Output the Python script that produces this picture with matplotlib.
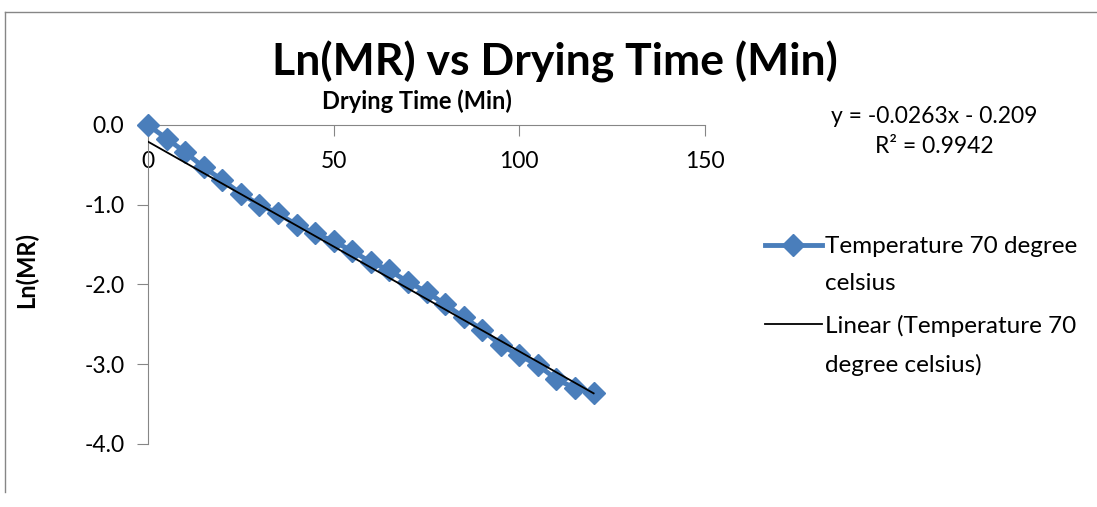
import matplotlib.pyplot as plt
from matplotlib.lines import Line2D

plt.rcParams['font.family'] = ['Lato', 'DejaVu Sans']

# drying time (min) and ln(MR) at 70 degree celsius
time_min = [0, 5, 10, 15, 20, 25, 30, 35, 40, 45, 50, 55, 60,
            65, 70, 75, 80, 85, 90, 95, 100, 105, 110, 115, 120]
ln_mr = [0.0, -0.17, -0.34, -0.53, -0.69, -0.86, -1.00, -1.11, -1.25,
         -1.36, -1.46, -1.58, -1.72, -1.82, -1.97, -2.09, -2.25, -2.41,
         -2.57, -2.76, -2.89, -3.01, -3.19, -3.30, -3.36]

# linear trendline coefficients
slope = -0.0263
intercept = -0.209
r_squared = 0.9942

x_ticks = [0, 50, 100, 150]
y_ticks = [0.0, -1.0, -2.0, -3.0, -4.0]

blue = '#4a7ebb'
grey = '#868686'

fig = plt.figure(figsize=(10.97, 5.07), dpi=100)
ax = fig.add_axes([0.1349, 0.1243, 0.5078, 0.6292])

ax.plot(time_min, ln_mr, color=blue, lw=3.5, marker='D', ms=11,
        label='Temperature 70 degree\ncelsius', zorder=3, clip_on=False)
fit_x = [time_min[0], time_min[-1]]
fit_y = [slope * t + intercept for t in fit_x]
ax.plot(fit_x, fit_y, color='black', lw=1.3,
        label='Linear (Temperature 70\ndegree celsius)', zorder=4)

ax.set_xlim(0, 150)
ax.set_ylim(-4, 0)
ax.set_xticks(x_ticks)
ax.set_yticks(y_ticks)
ax.set_yticklabels(['%.1f' % v for v in y_ticks])

# x axis sits at y = 0 (top), labels drawn underneath it
ax.spines['bottom'].set_visible(False)
ax.spines['right'].set_visible(False)
ax.spines['top'].set_color(grey)
ax.spines['left'].set_color(grey)
ax.xaxis.set_ticks_position('top')
ax.tick_params(axis='x', direction='in', length=8, color=grey,
               labeltop=True, labelbottom=False, pad=-19, labelsize=16.5)
ax.tick_params(axis='y', direction='out', length=8, color=grey,
               labelsize=16.5, pad=9)
for lbl in ax.get_xticklabels():
    lbl.set_verticalalignment('top')

ax.set_xlabel('Drying Time (Min)', fontsize=17, fontweight='bold')
ax.xaxis.set_label_position('top')
ax.xaxis.set_label_coords(0.482, 1.05)
ax.set_ylabel('Ln(MR)', fontsize=17, fontweight='bold')
ax.yaxis.set_label_coords(-0.198, 0.545)

fig.text(0.506, 0.878, 'Ln(MR) vs Drying Time (Min)', fontsize=32,
         fontweight='bold', ha='center', va='center')

fig.text(0.852, 0.771, 'y = %.4fx - %.3f' % (slope, -intercept),
         fontsize=16.5, ha='center', va='center')
fig.text(0.852, 0.712, 'R² = %.4f' % r_squared,
         fontsize=16.5, ha='center', va='center')

leg = ax.legend(loc='upper left', bbox_to_anchor=(0.697, 0.534),
                bbox_transform=fig.transFigure, frameon=False, fontsize=17.5,
                handlelength=2.35, handletextpad=0.12, labelspacing=0.85,
                borderaxespad=0, borderpad=0)
for t in leg.get_texts():
    t.set_linespacing(1.95)
# keep each handle level with the first line of its label
for column in leg._legend_handle_box.get_children():
    for entry in column.get_children():
        entry.align = 'top'

# chart area border (top and left edges visible)
fig.add_artist(Line2D([0.0046, 1.0], [0.976, 0.976], color=grey, lw=1))
fig.add_artist(Line2D([0.0046, 0.0046], [0.976, 0.03], color=grey, lw=1))

fig.savefig('out.png', dpi=100)
